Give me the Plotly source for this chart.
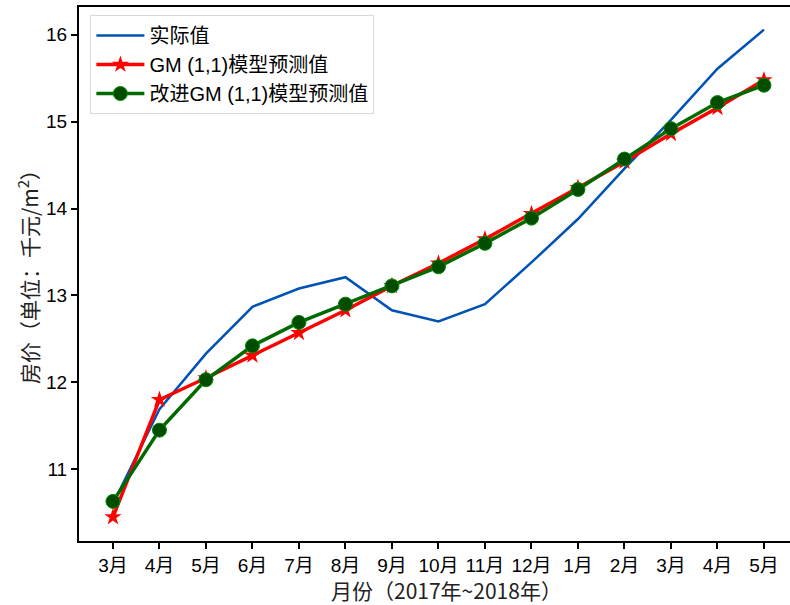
import plotly.graph_objects as go

# 月份标签（2017年3月 ~ 2018年5月）
months = ["3月", "4月", "5月", "6月", "7月", "8月", "9月", "10月", "11月",
          "12月", "1月", "2月", "3月", "4月", "5月"]

# 实际房价（千元/m²）
actual = [10.60, 11.69, 12.33, 12.87, 13.08, 13.21, 12.83, 12.70, 12.90,
          13.38, 13.88, 14.46, 15.02, 15.61, 16.06]

# GM (1,1) 模型预测值
gm_pred = [10.45, 11.80, 12.05, 12.31, 12.57, 12.83, 13.11, 13.37, 13.65,
           13.94, 14.24, 14.54, 14.86, 15.16, 15.48]

# 改进 GM (1,1) 模型预测值
gm_improved = [10.63, 11.45, 12.03, 12.42, 12.69, 12.90, 13.11, 13.33, 13.60,
               13.89, 14.22, 14.57, 14.92, 15.22, 15.42]

idx = list(range(len(months)))
font_main = "Liberation Sans, Arial, Noto Sans CJK SC, sans-serif"
font_title = "Noto Sans CJK SC, sans-serif"

fig = go.Figure()

fig.add_trace(go.Scatter(
    x=idx, y=actual, mode="lines", name="实际值",
    line=dict(color="#0052B4", width=2.5),
    legendgroup="a",
))
fig.add_trace(go.Scatter(
    x=idx, y=gm_pred, mode="lines+markers", name="GM (1,1)模型预测值",
    line=dict(color="#FF0000", width=3.5),
    marker=dict(symbol="star", size=13, color="#FF0000"),
    legendgroup="b",
))
fig.add_trace(go.Scatter(
    x=idx, y=gm_improved, mode="lines+markers", name="改进GM (1,1)模型预测值",
    line=dict(color="#006A00", width=3.5),
    marker=dict(symbol="circle", size=14, color="#004D00",
                line=dict(color="#008A00", width=1)),
    legendgroup="c",
))

fig.update_layout(
    width=790, height=605,
    margin=dict(l=79, r=0, t=7, b=64),
    paper_bgcolor="white", plot_bgcolor="white",
    font=dict(family=font_main, size=19, color="black"),
    showlegend=True,
    legend=dict(
        x=0.016, y=0.985, xanchor="left", yanchor="top",
        bgcolor="rgba(255,255,255,0.9)", bordercolor="#D8D8D8", borderwidth=1,
        font=dict(family=font_main, size=20, color="black"),
        traceorder="grouped", tracegroupgap=0,
        itemwidth=48,
    ),
    xaxis=dict(
        range=[-0.73, 14.56],
        tickmode="array", tickvals=idx, ticktext=months,
        showgrid=False, zeroline=False,
        showline=True, linecolor="black", linewidth=2, mirror=True,
        ticks="outside", ticklen=6, tickwidth=1.5, tickcolor="black",
        tickfont=dict(family=font_main, size=19, color="black"),
    ),
    yaxis=dict(
        range=[10.174, 16.32],
        tickvals=[11, 12, 13, 14, 15, 16],
        showgrid=False, zeroline=False,
        showline=True, linecolor="black", linewidth=2,
        ticks="outside", ticklen=6, tickwidth=1.5, tickcolor="black",
        tickfont=dict(family=font_main, size=19, color="black"),
    ),
    annotations=[
        dict(text="月份（2017年~2018年）", xref="paper", yref="paper",
             x=(446 - 79) / 711, y=-(590 - 541) / 534,
             xanchor="center", yanchor="middle", showarrow=False,
             font=dict(family=font_title, size=21, color="#222")),
        dict(text="房价（单位：千元/m<sup>2</sup>）", xref="paper", yref="paper",
             x=-(79 - 28) / 711, y=(541 - 272) / 534, textangle=-90,
             xanchor="center", yanchor="middle", showarrow=False,
             font=dict(family=font_title, size=21, color="#222")),
    ],
)

fig.write_html("out.html")
